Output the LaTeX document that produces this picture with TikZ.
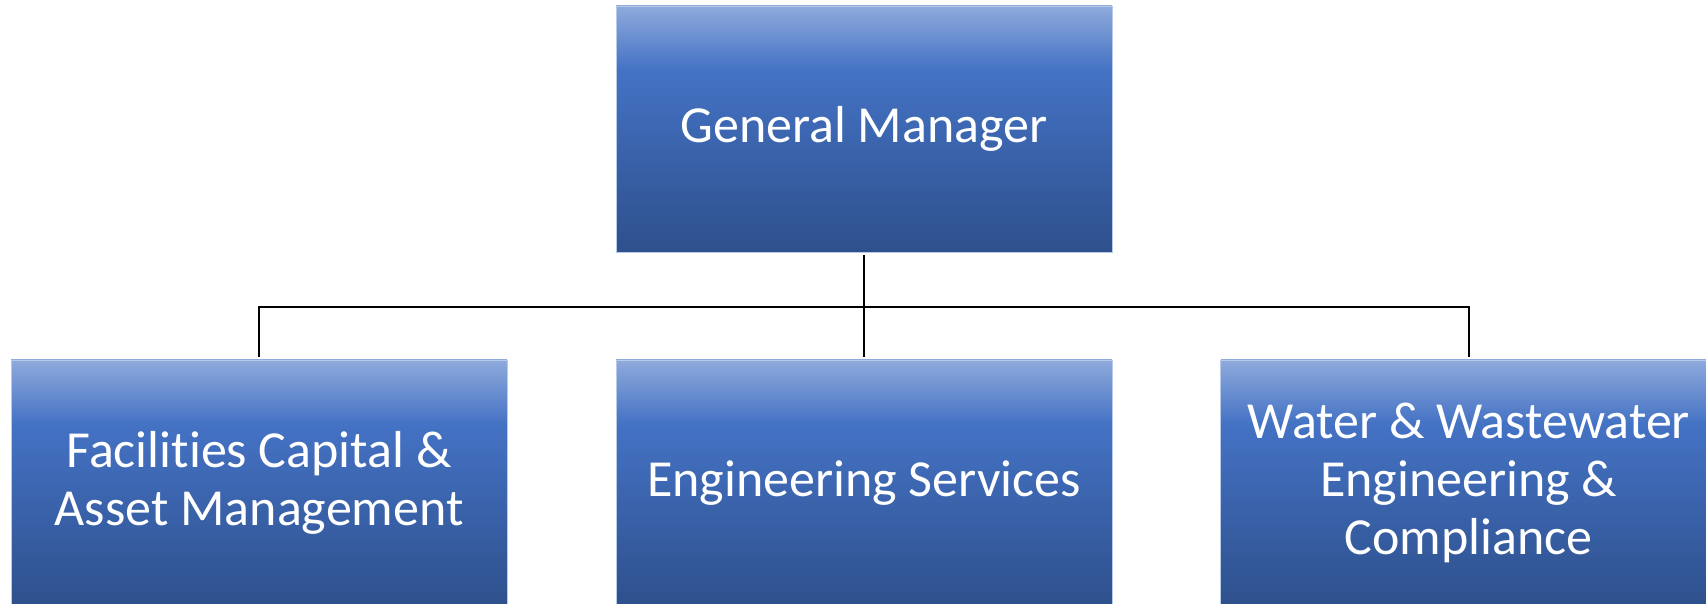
\documentclass[tikz,border=0pt]{standalone}
\usepackage{fontspec}
\setmainfont{Carlito}[Ligatures=NoCommon]
\usetikzlibrary{positioning}

\definecolor{gradtop}{RGB}{143,170,220}
\definecolor{gradmid}{RGB}{68,114,196}
\definecolor{gradbot}{RGB}{46,80,140}
\definecolor{boxedge}{RGB}{184,202,234}
% node spans 25bp..75bp of the shading
\pgfdeclareverticalshading{boxgrad}{100bp}{color(0bp)=(gradbot); color(25bp)=(gradbot); color(62bp)=(gradmid); color(75bp)=(gradtop); color(100bp)=(gradtop)}

\tikzset{
  unit/.style={shading=boxgrad, draw=boxedge, line width=0.8pt, text=white,
    minimum width=496pt, minimum height=246pt, inner sep=0pt, align=center,
    font=\fontsize{52}{58}\selectfont},
  link/.style={line width=1.6pt, black, shorten <=3pt, shorten >=3pt}
}

\begin{document}
\begin{tikzpicture}[x=1pt,y=1pt]
\useasboundingbox (0,0) rectangle (1706,604);
\clip (0,0) rectangle (1706,604);

% Boxes
\node[unit] (gm) at (864,475) {General Manager};
\node[unit] (es) at (864,121) {Engineering Services};
\node[unit, left=108pt of es] (fcam) {Facilities Capital \&\\Asset Management};
\node[unit, right=108pt of es] (wwec) {Water \& Wastewater\\Engineering \&\\Compliance};

% Connectors
\coordinate (bus) at (864,297);
\draw[link, shorten >=0pt] (gm) -- (bus);
\draw[link, shorten <=0pt] (bus) -| (fcam);
\draw[link, shorten <=0pt] (bus) -- (es);
\draw[link, shorten <=0pt] (bus) -| (wwec);
\end{tikzpicture}
\end{document}
